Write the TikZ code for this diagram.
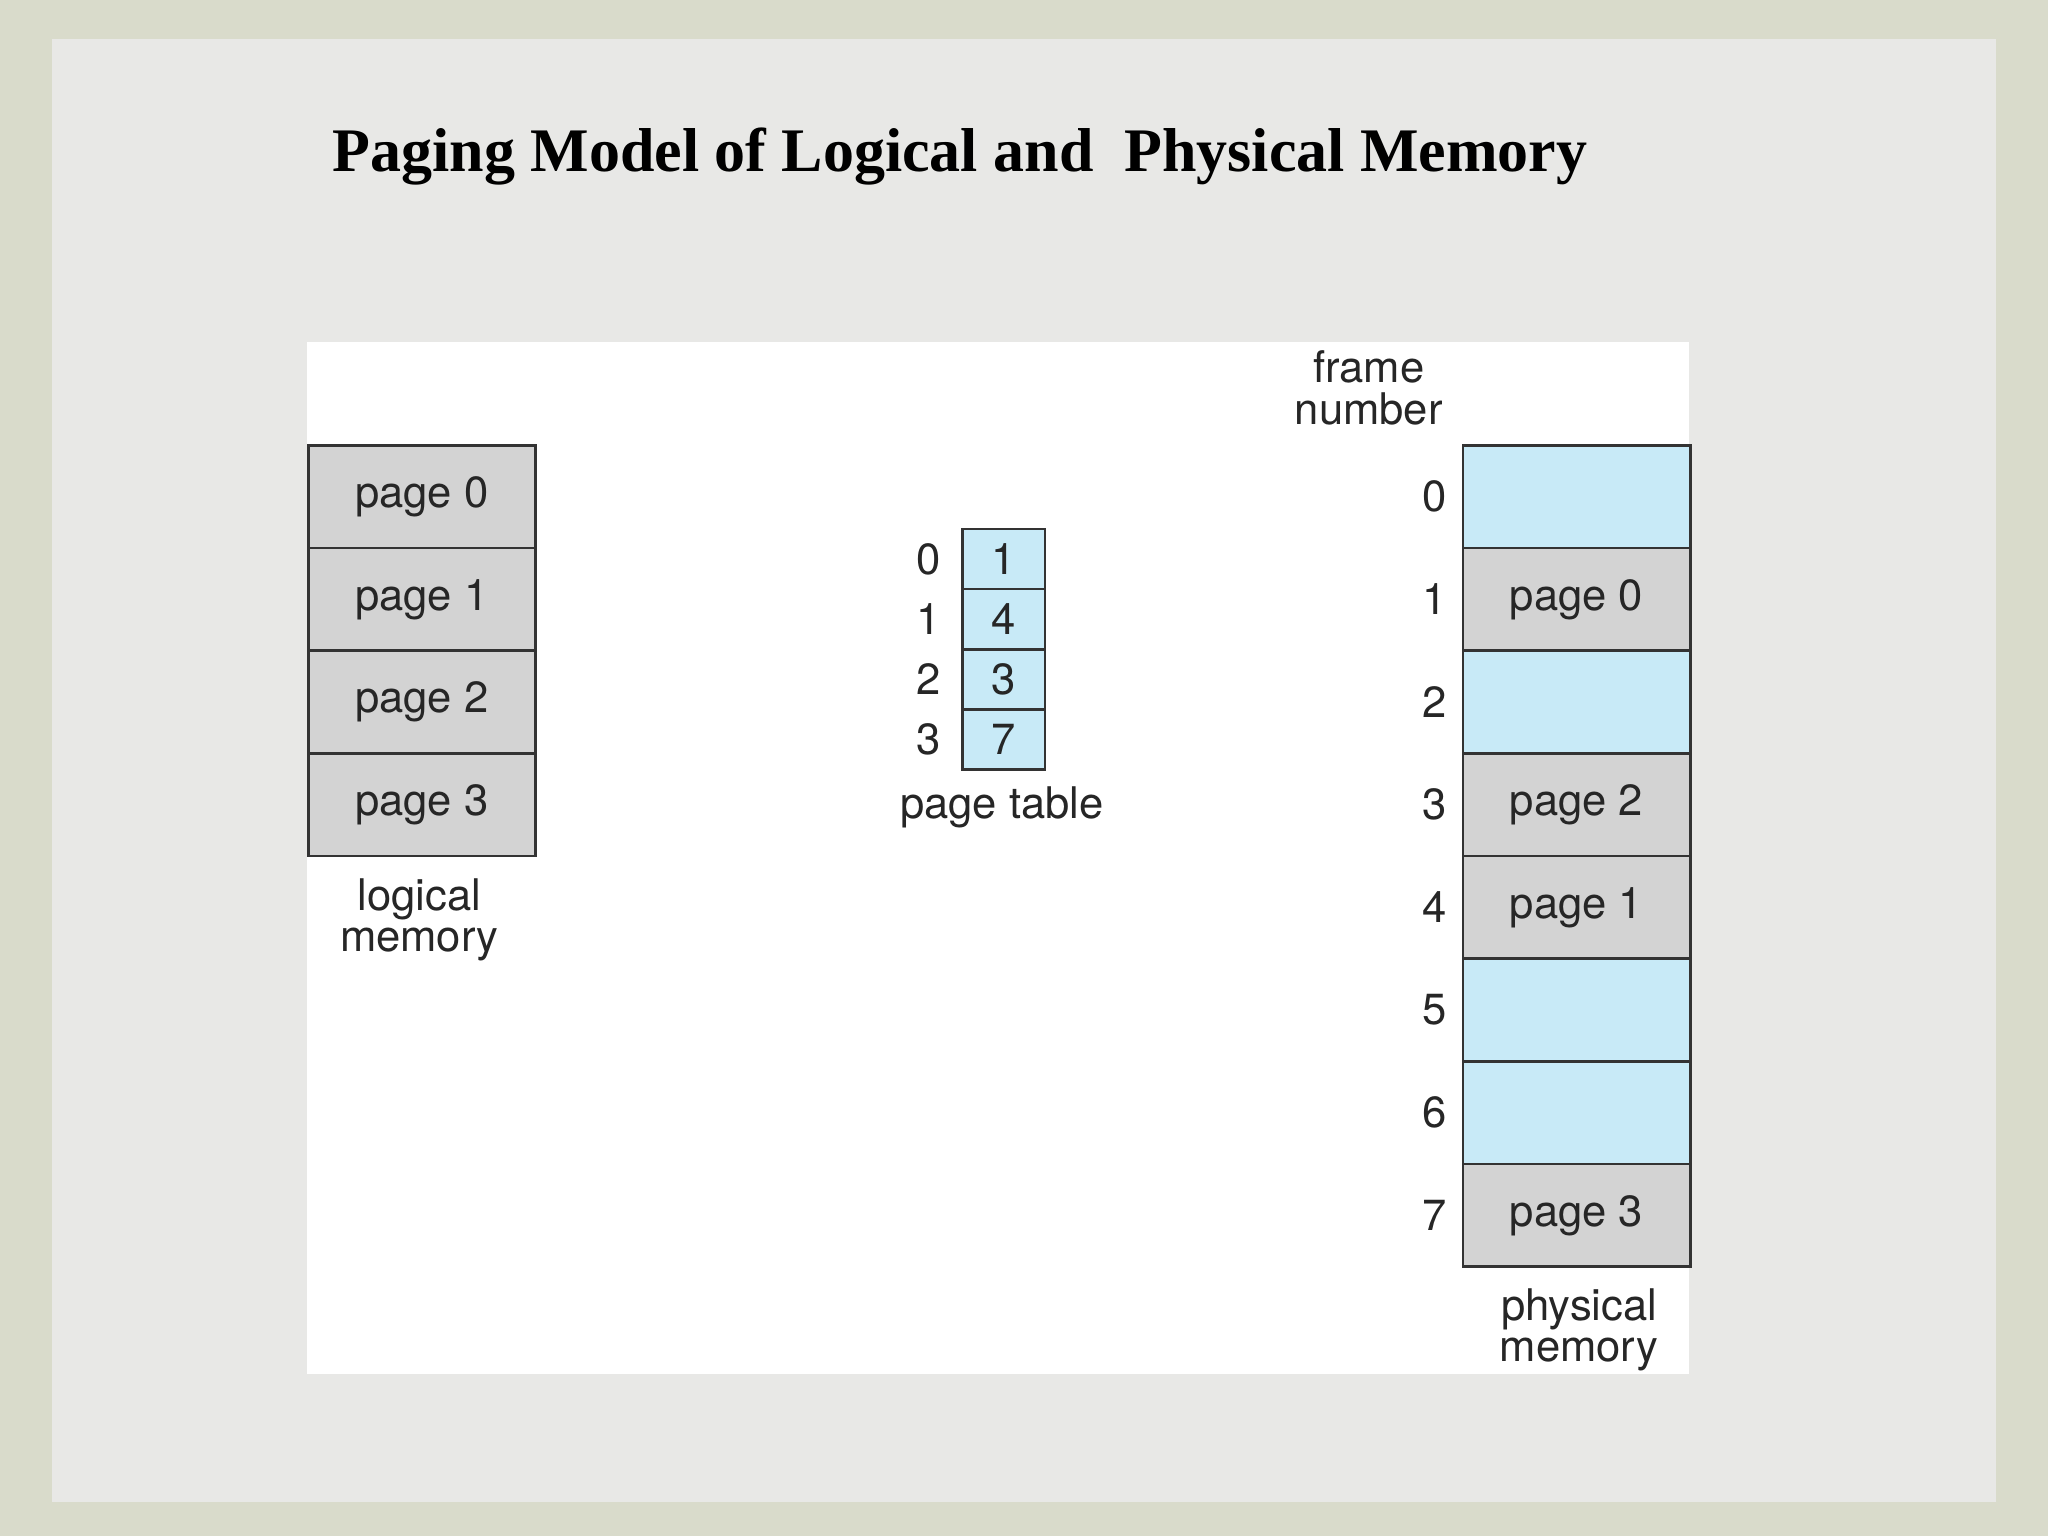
\documentclass[tikz,border=0pt]{standalone}
\usepackage{fontspec}
\setmainfont{Liberation Serif}
\newfontfamily\diag{TeX Gyre Heros}
\definecolor{bgout}{HTML}{D9DBCB}
\definecolor{bgin}{HTML}{E8E8E6}
\definecolor{pgray}{HTML}{D3D3D3}
\definecolor{pblue}{HTML}{C8EAF7}
\begin{document}
\begin{tikzpicture}[x=0.02cm,y=-0.02cm,
  cell/.style={draw=black!80,line width=1.2pt,minimum width=174*0.02cm,minimum height=78.6*0.02cm,inner sep=0,font=\diag\fontsize{19}{22}\selectfont,text=black!85},
  tcell/.style={draw=black!80,line width=1.2pt,fill=pblue,minimum width=63*0.02cm,minimum height=46*0.02cm,inner sep=0,font=\diag\fontsize{19}{22}\selectfont,text=black!85},
  lbl/.style={font=\diag\fontsize{19}{22}\selectfont,text=black!85,align=center},
  num/.style={font=\diag\fontsize{19}{22}\selectfont,text=black!85}]
\fill[bgout] (0,0) rectangle (1568,1176);
\fill[bgin] (40,30) rectangle (1528,1150);
\fill[white] (235,262) rectangle (1293,1052);
\node[font=\bfseries\fontsize{27}{32}\selectfont] (title) at (735,120) {Paging Model of Logical and\ \ Physical Memory};
% logical memory
\foreach \i in {0,...,3}
  \node[cell,fill=pgray] (l\i) at (323,{380.3+78.6*\i}) {page \i};
\node[lbl] (lm) at (321,704) {logical\\[-4pt]memory};
% page table
\foreach \i/\v in {0/1,1/4,2/3,3/7}{
  \node[tcell] (t\i) at (768.5,{428+46*\i}) {\v};
  \node[num] (ti\i) at (711,{428+46*\i}) {\i};}
\node[lbl] (pt) at (767,618) {page table};
% physical memory
\foreach \i/\t/\c in {0//pblue,1/page 0/pgray,2//pblue,3/page 2/pgray,4/page 1/pgray,5//pblue,6//pblue,7/page 3/pgray}{
  \node[cell,fill=\c] (p\i) at (1207,{380.3+78.6*\i}) {\t};
  \node[num] (f\i) at (1098,{380.3+78.6*\i}) {\i};}
\node[lbl] (fn) at (1048,297) {frame\\[-4pt]number};
\node[lbl] (pm) at (1209,1018) {physical\\[-4pt]memory};
\end{tikzpicture}
\end{document}
